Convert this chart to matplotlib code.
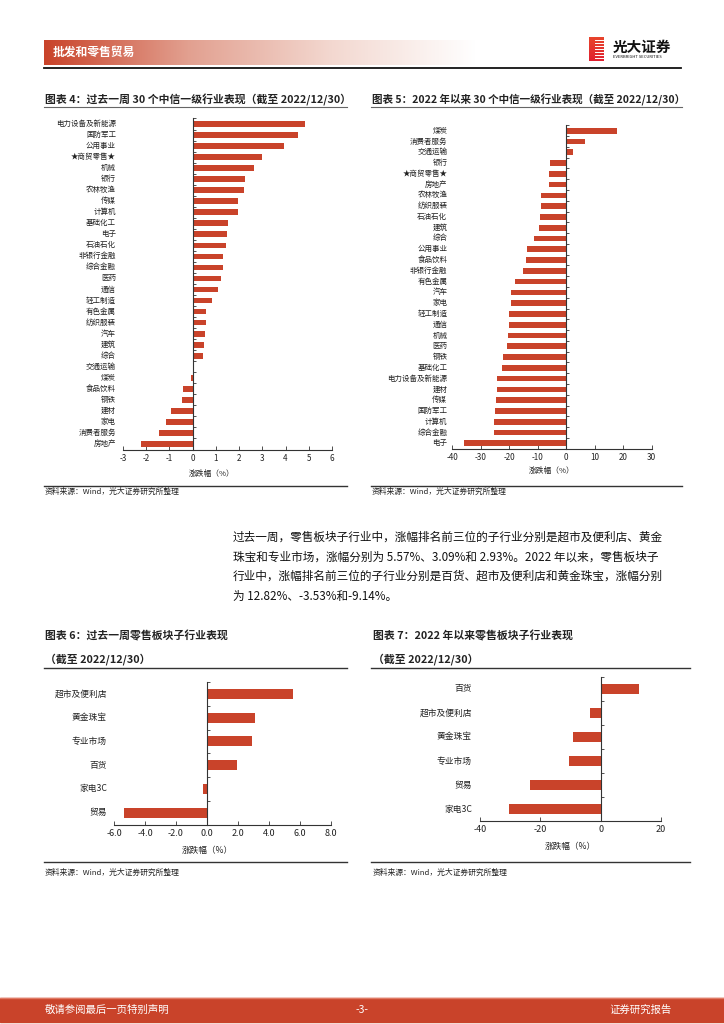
import matplotlib
matplotlib.use("Agg")
import matplotlib.pyplot as plt
import numpy as np
from matplotlib.lines import Line2D
from matplotlib.patches import Rectangle
from matplotlib.colors import LinearSegmentedColormap

plt.rcParams['font.family'] = ['Noto Sans CJK SC', 'DejaVu Sans']

W, H = 724, 1024
RED = '#C9432A'
INK = '#222222'

# ---- data ----
week_ind = ['电力设备及新能源', '国防军工', '公用事业', '★商贸零售★', '机械', '银行', '农林牧渔',
            '传媒', '计算机', '基础化工', '电子', '石油石化', '非银行金融', '综合金融', '医药',
            '通信', '轻工制造', '有色金属', '纺织服装', '汽车', '建筑', '综合', '交通运输', '煤炭',
            '食品饮料', '钢铁', '建材', '家电', '消费者服务', '房地产']
week_chg = [4.85, 4.52, 3.92, 2.99, 2.66, 2.27, 2.23, 1.94, 1.94, 1.51, 1.48, 1.43, 1.31, 1.29, 1.20,
            1.08, 0.85, 0.58, 0.58, 0.53, 0.48, 0.46, 0.07, -0.07, -0.40, -0.45, -0.95, -1.14, -1.46, -2.22]

ytd_ind = ['煤炭', '消费者服务', '交通运输', '银行', '★商贸零售★', '房地产', '农林牧渔', '纺织服装',
           '石油石化', '建筑', '综合', '公用事业', '食品饮料', '非银行金融', '有色金属', '汽车', '家电',
           '轻工制造', '通信', '机械', '医药', '钢铁', '基础化工', '电力设备及新能源', '建材', '传媒',
           '国防军工', '计算机', '综合金融', '电子']
ytd_chg = [17.7, 6.7, 2.5, -5.7, -6.0, -6.0, -8.7, -8.8, -9.2, -9.6, -11.2, -13.8, -14.3, -15.1, -17.9,
           -19.4, -19.4, -20.0, -20.2, -20.6, -20.8, -22.1, -22.7, -24.2, -24.4, -24.6, -24.9, -25.3,
           -25.3, -35.8]

sub_week = ['超市及便利店', '黄金珠宝', '专业市场', '百货', '家电3C', '贸易']
sub_week_chg = [5.57, 3.09, 2.93, 1.91, -0.24, -5.33]

sub_ytd = ['百货', '超市及便利店', '黄金珠宝', '专业市场', '贸易', '家电3C']
sub_ytd_chg = [12.82, -3.53, -9.14, -10.5, -23.4, -30.5]

week_ticks = [-3, -2, -1, 0, 1, 2, 3, 4, 5, 6]
ytd_ticks = [-40, -30, -20, -10, 0, 10, 20, 30]
sub_week_ticks = [-6, -4, -2, 0, 2, 4, 6, 8]
sub_ytd_ticks = [-40, -20, 0, 20]

para = ['过去一周，零售板块子行业中，涨幅排名前三位的子行业分别是超市及便利店、黄金',
        '珠宝和专业市场，涨幅分别为 5.57%、3.09%和 2.93%。2022 年以来，零售板块子',
        '行业中，涨幅排名前三位的子行业分别是百货、超市及便利店和黄金珠宝，涨幅分别',
        '为 12.82%、-3.53%和-9.14%。']
source = '资料来源：Wind，光大证券研究所整理'

fig = plt.figure(figsize=(W / 100, H / 100), dpi=100)
fig.patch.set_facecolor('white')


def box(x0, y0, x1, y1):
    return [x0 / W, 1 - y1 / H, (x1 - x0) / W, (y1 - y0) / H]


def ftext(x, y, s, **kw):
    kw.setdefault('color', INK)
    kw.setdefault('va', 'center')
    fig.text(x / W, 1 - y / H, s, **kw)


def hline(x0, x1, y, color='#333333', lw=1.0):
    fig.add_artist(Line2D([x0 / W, x1 / W], [1 - y / H, 1 - y / H], color=color, lw=lw,
                          transform=fig.transFigure))


def bar_panel(rect, cats, vals, xlim, ticks, ticklabels, label_gap, bar_h, cat_fs, tick_fs):
    ax = fig.add_axes(box(*rect))
    ax.patch.set_alpha(0)
    y = np.arange(len(cats))
    ax.barh(y, vals, height=bar_h, color=RED, zorder=2)
    ax.set_xlim(*xlim)
    ax.set_ylim(len(cats) - 0.5, -0.5)
    for s in ['top', 'right']:
        ax.spines[s].set_visible(False)
    ax.spines['left'].set_position(('data', 0))
    for s in ['left', 'bottom']:
        ax.spines[s].set_color('#333333')
        ax.spines[s].set_linewidth(0.8)
    ax.set_yticks(np.arange(len(cats) + 1) - 0.5)
    ax.set_yticklabels([])
    ax.tick_params(axis='y', direction='in', length=2.5, width=0.6, color='#333333')
    ax.set_xticks(ticks)
    ax.set_xticklabels(ticklabels, fontsize=tick_fs, color=INK)
    ax.tick_params(axis='x', direction='in', length=3, width=0.6, pad=3, color='#333333')
    w_px = rect[2] - rect[0]
    for yi, c in zip(y, cats):
        ax.text(-label_gap / w_px, yi, c, transform=ax.get_yaxis_transform(),
                ha='right', va='center', fontsize=cat_fs, color=INK)
    return ax


# ---- header ----
grad = LinearSegmentedColormap.from_list('hdr', [RED, '#E2A090', '#F3D8D0', '#FFFFFF'])
hax = fig.add_axes(box(44, 40, 476, 65))
hax.imshow(np.linspace(0, 1, 256)[None, :], cmap=grad, aspect='auto', extent=[0, 1, 0, 1])
hax.axis('off')
ftext(53, 52.5, '批发和零售贸易', color='white', fontsize=8.5, fontweight='bold')
hline(44, 681, 68, color='#111111', lw=1.3)

# logo
lax = fig.add_axes(box(589, 37, 604, 61))
lax.imshow(np.linspace(0, 1, 64)[:, None], cmap=LinearSegmentedColormap.from_list('lg', ['#E8452C', '#E02030']),
           aspect='auto', extent=[0, 1, 0, 1])
for k in range(1, 8):
    lax.axhline(k / 8, xmin=0.4, xmax=1, color='white', lw=0.7)
lax.set_xlim(0, 1)
lax.set_ylim(0, 1)
lax.axis('off')
ftext(613, 47, '光大证券', fontsize=10.5, fontweight='bold', color='#111111')
ftext(613, 57.5, 'EVERBRIGHT SECURITIES', fontsize=3.0, color='#111111')

# ---- chart 4 ----
ftext(45, 100, '图表 4：过去一周 30 个中信一级行业表现（截至 2022/12/30）', fontsize=7.8, fontweight='bold')
hline(44, 347, 107, color='#666666', lw=0.8)
bar_panel((123, 118.5, 332, 449.5), week_ind, week_chg, (-3, 6), week_ticks,
          [str(t) for t in week_ticks], 7, 0.52, 5.4, 5.8)
ftext(212, 474, '涨跌幅（%）', fontsize=5.6, ha='center')
hline(44, 347, 486, color='#333333', lw=1.0)
ftext(45, 492, source, fontsize=5.6)

# ---- chart 5 ----
ftext(372, 100, '图表 5：2022 年以来 30 个中信一级行业表现（截至 2022/12/30）', fontsize=7.6, fontweight='bold')
hline(371, 682, 107, color='#666666', lw=0.8)
bar_panel((452.3, 125.3, 651.7, 448.7), ytd_ind, ytd_chg, (-40, 30), ytd_ticks,
          [str(t) for t in ytd_ticks], 5, 0.53, 5.4, 5.8)
ftext(552, 471, '涨跌幅（%）', fontsize=5.6, ha='center')
hline(371, 682, 486, color='#333333', lw=1.0)
ftext(372, 492, source, fontsize=5.6)

# ---- paragraph ----
for i, line in enumerate(para):
    ftext(233, 537 + i * 19.7, line, fontsize=8.4, color='#111111')

# ---- chart 6 ----
ftext(45, 636, '图表 6：过去一周零售板块子行业表现', fontsize=7.8, fontweight='bold')
ftext(45, 659, '（截至 2022/12/30）', fontsize=7.8, fontweight='bold')
hline(44, 347, 668, color='#333333', lw=1.0)
bar_panel((114, 682, 331, 824.6), sub_week, sub_week_chg, (-6, 8), sub_week_ticks,
          ['%.1f' % t for t in sub_week_ticks], 7, 0.42, 6.3, 6.5)
ftext(207, 850, '涨跌幅（%）', fontsize=6.2, ha='center')
hline(44, 347, 862, color='#333333', lw=1.0)
ftext(45, 873, source, fontsize=5.6)

# ---- chart 7 ----
ftext(373, 636, '图表 7：2022 年以来零售板块子行业表现', fontsize=7.8, fontweight='bold')
ftext(373, 659, '（截至 2022/12/30）', fontsize=7.8, fontweight='bold')
hline(371, 690, 668, color='#333333', lw=1.0)
bar_panel((480, 677, 661, 821), sub_ytd, sub_ytd_chg, (-40, 20), sub_ytd_ticks,
          [str(t) for t in sub_ytd_ticks], 8, 0.42, 6.3, 6.5)
ftext(570, 846, '涨跌幅（%）', fontsize=6.2, ha='center')
hline(371, 690, 862, color='#333333', lw=1.0)
ftext(373, 873, source, fontsize=5.6)

# ---- footer ----
fig.add_artist(Rectangle((0, 1 - 1022 / H), 1, 24 / H, color=RED, transform=fig.transFigure))
hline(0, W, 998, color='#E07A66', lw=1.0)
ftext(45, 1010, '敬请参阅最后一页特别声明', fontsize=7.5, color='white')
ftext(362, 1010, '-3-', fontsize=7.5, color='white', ha='center')
ftext(672, 1010, '证券研究报告', fontsize=7.5, color='white', ha='right')

fig.savefig('out.png', dpi=100, facecolor='white')
